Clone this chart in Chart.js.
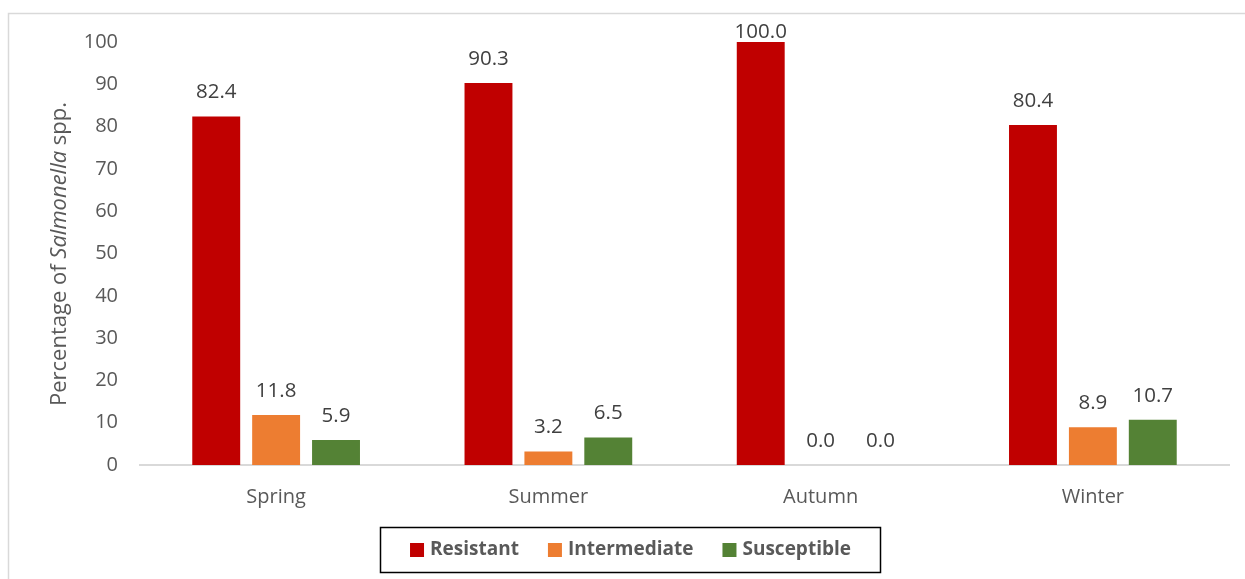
<!DOCTYPE html>
<html>
<head>
<meta charset="utf-8">
<script src="https://cdn.jsdelivr.net/npm/chart.js@4/dist/chart.umd.min.js"></script>
<style>
  html, body { margin: 0; padding: 0; background: #ffffff; }
  #wrap { position: relative; width: 1245px; height: 579px; }
</style>
</head>
<body>
<div id="wrap"><canvas id="c" width="1245" height="579"></canvas></div>
<script>
// Seasons on the x axis
const seasons = ['Spring', 'Summer', 'Autumn', 'Winter'];

// Percentage of isolates per susceptibility class
const resistant    = [82.4, 90.3, 100.0, 80.4];
const intermediate = [11.8, 3.2, 0.0, 8.9];
const susceptible  = [5.9, 6.5, 0.0, 10.7];

const seriesNames = ['Resistant', 'Intermediate', 'Susceptible'];
const seriesColors = ['#C00000', '#ED7D31', '#548235'];

const yTicks = [0, 10, 20, 30, 40, 50, 60, 70, 80, 90, 100];

const FONT = "'Open Sans', 'Liberation Sans', sans-serif";

// Light frame around the whole figure
const framePlugin = {
  id: 'frame',
  beforeDraw(chart) {
    const ctx = chart.ctx;
    ctx.save();
    ctx.strokeStyle = '#d9d9d9';
    ctx.lineWidth = 1.5;
    ctx.beginPath();
    ctx.moveTo(8.5, chart.height + 5);
    ctx.lineTo(8.5, 13.5);
    ctx.lineTo(chart.width + 5, 13.5);
    ctx.stroke();
    ctx.restore();
  }
};

// Value labels above each bar
const valueLabels = {
  id: 'valueLabels',
  afterDatasetsDraw(chart) {
    const ctx = chart.ctx;
    const top = chart.chartArea.top;
    ctx.save();
    ctx.font = '20.5px ' + FONT;
    ctx.fillStyle = '#404040';
    ctx.textAlign = 'center';
    ctx.textBaseline = 'middle';
    chart.data.datasets.forEach((ds, di) => {
      chart.getDatasetMeta(di).data.forEach((bar, i) => {
        const y = Math.max(bar.y - 24, top - 10);
        ctx.fillText(ds.data[i].toFixed(1), bar.x, y);
      });
    });
    ctx.restore();
  }
};

// Rotated y-axis title with the genus name in italics
const yTitle = {
  id: 'yTitle',
  afterDraw(chart) {
    const ctx = chart.ctx;
    const parts = [
      { t: 'Percentage of ', f: '22px ' + FONT },
      { t: 'Salmonella', f: 'italic 22px ' + FONT },
      { t: ' spp.', f: '22px ' + FONT }
    ];
    ctx.save();
    let total = 0;
    parts.forEach(p => { ctx.font = p.f; p.w = ctx.measureText(p.t).width; total += p.w; });
    ctx.translate(60, 254);
    ctx.rotate(-Math.PI / 2);
    ctx.fillStyle = '#595959';
    ctx.textBaseline = 'middle';
    ctx.textAlign = 'left';
    let x = -total / 2;
    parts.forEach(p => { ctx.font = p.f; ctx.fillText(p.t, x, 0); x += p.w; });
    ctx.restore();
  }
};

// Boxed legend below the axis
const boxedLegend = {
  id: 'boxedLegend',
  afterDraw(chart) {
    const ctx = chart.ctx;
    const box = { x: 380.5, y: 527.5, w: 500, h: 45 };
    const sq = 14, textGap = 6, itemGap = 29;
    ctx.save();
    ctx.font = 'bold 19px ' + FONT;
    const items = chart.data.datasets.map(ds => ({
      label: ds.label, color: ds.backgroundColor, w: ctx.measureText(ds.label).width
    }));
    let total = 0;
    items.forEach((it, i) => { total += sq + textGap + it.w + (i ? itemGap : 0); });
    ctx.strokeStyle = '#000000';
    ctx.lineWidth = 1.5;
    ctx.strokeRect(box.x, box.y, box.w, box.h);
    const cy = box.y + box.h / 2;
    let x = box.x + box.w / 2 - total / 2;
    ctx.textBaseline = 'middle';
    ctx.textAlign = 'left';
    items.forEach((it, i) => {
      if (i) x += itemGap;
      ctx.fillStyle = it.color;
      ctx.fillRect(x, cy - sq / 2, sq, sq);
      x += sq + textGap;
      ctx.fillStyle = '#595959';
      ctx.fillText(it.label, x, cy);
      x += it.w;
    });
    ctx.restore();
  }
};

const seriesData = [resistant, intermediate, susceptible];

new Chart(document.getElementById('c'), {
  type: 'bar',
  data: {
    labels: seasons,
    datasets: seriesData.map((d, i) => ({
      label: seriesNames[i],
      data: d,
      backgroundColor: seriesColors[i],
      borderWidth: 0,
      categoryPercentage: 0.66,
      barPercentage: 0.8
    }))
  },
  options: {
    responsive: false,
    animation: false,
    devicePixelRatio: 1,
    layout: { padding: { top: 42, right: 16, bottom: 0, left: 0 } },
    plugins: {
      legend: { display: false },
      tooltip: { enabled: false },
      title: { display: false }
    },
    scales: {
      x: {
        grid: { display: false, drawTicks: false },
        border: { display: true, color: '#d9d9d9', width: 2 },
        ticks: { color: '#595959', font: { family: FONT, size: 20 }, padding: 20 },
        afterFit(scale) { scale.height = 114; }
      },
      y: {
        min: 0,
        max: 100,
        afterBuildTicks(scale) { scale.ticks = yTicks.map(v => ({ value: v })); },
        grid: { display: false, drawTicks: false },
        border: { display: false },
        ticks: { color: '#595959', font: { family: FONT, size: 20 }, padding: 22 },
        afterFit(scale) { scale.width = 140; }
      }
    }
  },
  plugins: [framePlugin, valueLabels, yTitle, boxedLegend]
});
</script>
</body>
</html>
